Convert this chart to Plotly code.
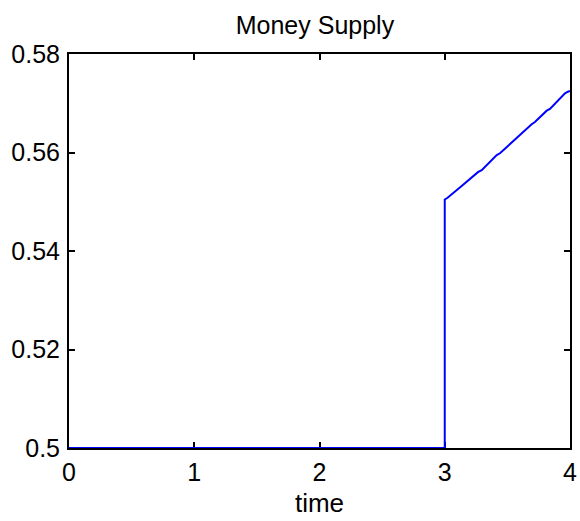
import plotly.graph_objects as go

time = [0.0, 3.0, 3.0, 3.02, 3.135, 3.162, 3.265, 3.295, 3.415, 3.441, 3.535, 3.561,
        3.694, 3.72, 3.814, 3.84, 3.96, 3.984, 4.0]
money = [0.5, 0.5, 0.55046, 0.55076, 0.5532, 0.55375, 0.5560, 0.5564, 0.55949, 0.55984,
         0.56207, 0.56254, 0.56573, 0.5662, 0.56849, 0.56883, 0.57202, 0.57234, 0.5725]
x_ticks = [0, 1, 2, 3, 4]
y_ticks = [0.5, 0.52, 0.54, 0.56, 0.58]
y_tick_labels = ["0.5", "0.52", "0.54", "0.56", "0.58"]

fig = go.Figure()
fig.add_trace(go.Scatter(x=time, y=money, mode="lines", cliponaxis=False,
                         line=dict(color="#0000ff", width=2), showlegend=False))

font = "Liberation Sans, Arial, sans-serif"
axis_common = dict(showline=True, linecolor="black", linewidth=2, mirror="ticks",
                   ticks="inside", ticklen=6, tickwidth=1.5, tickcolor="black",
                   showgrid=False, zeroline=False, automargin=False, layer="below traces",
                   tickfont=dict(family=font, size=25, color="black"))

fig.update_layout(
    width=580, height=521,
    margin=dict(l=69, r=10, t=54, b=73),
    paper_bgcolor="white", plot_bgcolor="white",
    title=dict(text="Money Supply", x=0.543, xanchor="center", y=0.952, yanchor="middle",
               font=dict(family=font, size=25, color="black")),
    xaxis=dict(range=[0, 4], tickvals=x_ticks, ticklabelstandoff=1,
               title=dict(text="time", font=dict(family=font, size=26, color="black"), standoff=9),
               **axis_common),
    yaxis=dict(range=[0.5, 0.58], tickvals=y_ticks, ticktext=y_tick_labels, ticklabelstandoff=2,
               **axis_common),
)

fig.write_html("out.html", config={"displayModeBar": False},
               post_script="document.body.style.margin='0';document.body.style.overflow='hidden';")
